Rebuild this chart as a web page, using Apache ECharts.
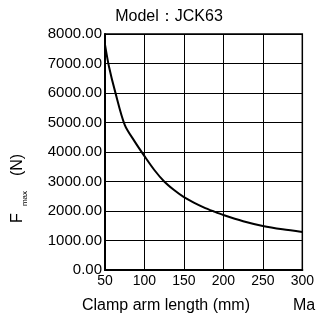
<!DOCTYPE html>
<html>
<head>
<meta charset="utf-8">
<script src="https://cdn.jsdelivr.net/npm/echarts@6/dist/echarts.min.js"></script>
<style>html,body{margin:0;padding:0;background:#fff}#c{width:317px;height:324px}</style>
</head>
<body>
<div id="c"></div>
<script>
const armLength = [50, 55, 63, 75, 87.5, 100, 112.5, 125, 137.5, 150, 162.5, 175, 187.5, 200, 225, 250, 275, 300];
const force = [7640, 6900, 6030, 4920, 4360, 3860, 3390, 3000, 2710, 2470, 2285, 2125, 1990, 1865, 1655, 1495, 1380, 1290];
const xTicks = [50, 100, 150, 200, 250, 300];
const yTicks = [0, 1000, 2000, 3000, 4000, 5000, 6000, 7000, 8000];
const titleText = 'Model：JCK63';
const xName = 'Clamp arm length (mm)';
const extraText = 'Ma';

const FF = '"Liberation Sans", Arial, sans-serif';
const chart = echarts.init(document.getElementById('c'), null, {renderer: 'canvas'});
chart.setOption({
  animation: false,
  backgroundColor: '#fff',
  grid: {left: 105, right: 11, top: 34, bottom: 54, show: true, borderColor: '#000', borderWidth: 1.5},
  xAxis: {
    type: 'value', min: xTicks[0], max: xTicks[xTicks.length - 1], interval: 50,
    axisLine: {show: true, lineStyle: {color: '#000', width: 2}},
    axisTick: {show: false},
    splitLine: {show: true, lineStyle: {color: '#000', width: 1}},
    axisLabel: {color: '#000', fontSize: 14, fontFamily: FF, margin: 4}
  },
  yAxis: {
    type: 'value', min: yTicks[0], max: yTicks[yTicks.length - 1], interval: 1000,
    axisLine: {show: true, lineStyle: {color: '#000', width: 2}},
    axisTick: {show: false},
    splitLine: {show: true, lineStyle: {color: '#000', width: 1}},
    axisLabel: {color: '#000', fontSize: 15, fontFamily: FF, margin: 3, formatter: v => v.toFixed(2)}
  },
  series: [{
    type: 'line',
    data: armLength.map((x, i) => [x, force[i]]),
    showSymbol: false,
    smooth: 0.3,
    lineStyle: {color: '#000', width: 2},
    clip: true
  }],
  graphic: [
    {type: 'text', x: 169, y: 17, style: {text: titleText, align: 'center', verticalAlign: 'middle', font: '16px ' + FF, fill: '#000'}},
    {type: 'text', x: 166, y: 306, style: {text: xName, align: 'center', verticalAlign: 'middle', font: '16px ' + FF, fill: '#000'}},
    {type: 'text', x: 293, y: 306, style: {text: extraText, align: 'left', verticalAlign: 'middle', font: '16px ' + FF, fill: '#000'}},
    {type: 'text', x: 17.5, y: 218, rotation: Math.PI / 2, style: {text: 'F', align: 'center', verticalAlign: 'middle', font: '16px ' + FF, fill: '#000'}},
    {type: 'text', x: 24.5, y: 198.5, rotation: Math.PI / 2, style: {text: 'max', align: 'center', verticalAlign: 'middle', font: '8px ' + FF, fill: '#000'}},
    {type: 'text', x: 17.5, y: 165, rotation: Math.PI / 2, style: {text: '(N)', align: 'center', verticalAlign: 'middle', font: '16px ' + FF, fill: '#000'}}
  ]
});
</script>
</body>
</html>
